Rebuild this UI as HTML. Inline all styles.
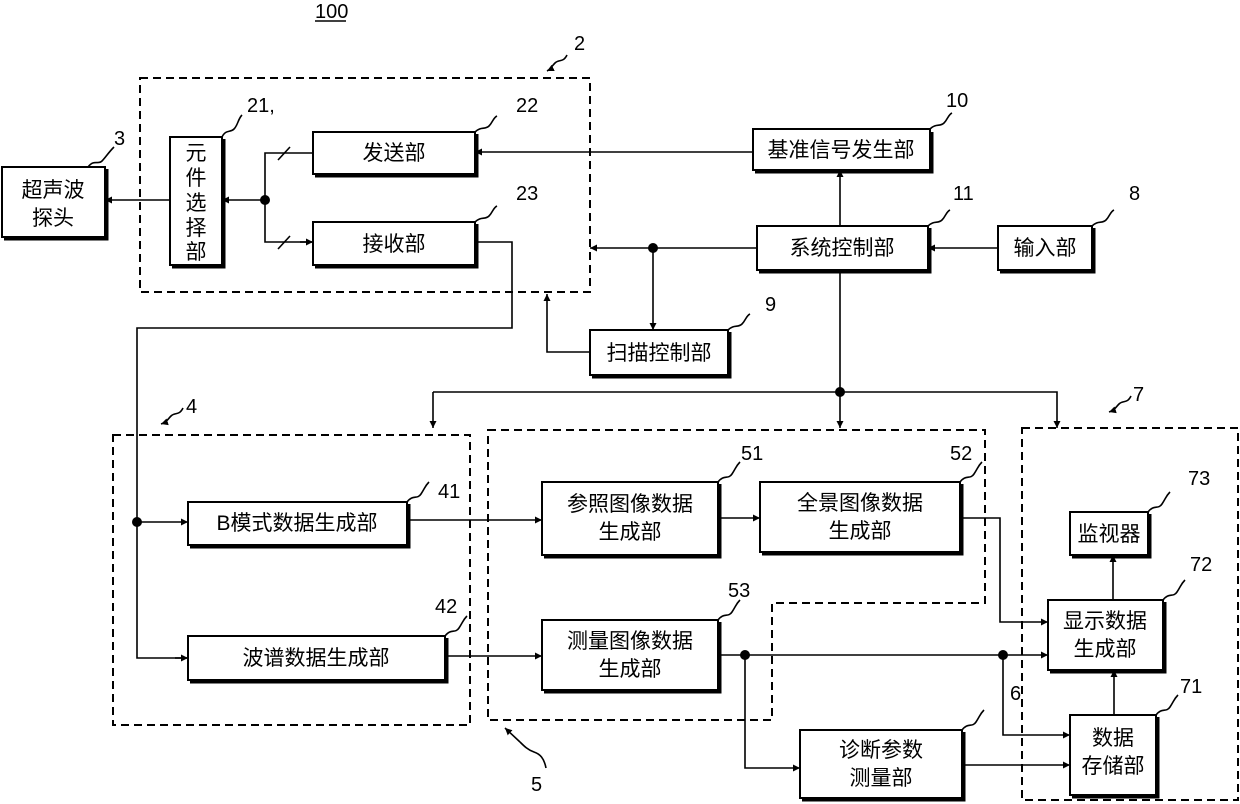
<!DOCTYPE html>
<html><head><meta charset="utf-8"><style>
body{margin:0;background:#fff}
svg{display:block}
text{font-family:"Liberation Sans","Noto Sans CJK SC",sans-serif;fill:#000}
.b{fill:#fff;stroke:#000;stroke-width:2}
.s{fill:none;stroke:#000;stroke-width:3}
.d{fill:none;stroke:#000;stroke-width:2;stroke-dasharray:8 5}
.l{fill:none;stroke:#000;stroke-width:1.6}
.t{font-size:21px;text-anchor:middle}
.n{font-size:20px}
</style></head><body>
<svg width="1240" height="804" viewBox="0 0 1240 804">
<defs><marker id="a" viewBox="0 0 10 10" refX="10" refY="5" markerWidth="7" markerHeight="7" orient="auto" markerUnits="userSpaceOnUse"><path d="M0,0L10,5L0,10z"/></marker></defs>

<text x="315" y="18" class="n">100</text><line x1="315" y1="21" x2="346" y2="21" stroke="#000" stroke-width="1.5"/>

<rect x="140" y="78" width="450" height="214" class="d"/>
<rect x="113" y="435" width="357" height="290" class="d"/>
<path d="M488,430H985V603H772V720H488Z" class="d"/>
<rect x="1022" y="428" width="216" height="372" class="d"/>

<g>
<path d="M4,239H107V169" class="s"/><rect x="2" y="167" width="103" height="70" class="b"/>
<text x="53" y="197" class="t">超声波</text><text x="53" y="225" class="t">探头</text>

<path d="M172,267H224V139" class="s"/><rect x="170" y="137" width="52" height="128" class="b"/>
<text x="196" y="160" class="t">元</text><text x="196" y="185" class="t">件</text><text x="196" y="210" class="t">选</text><text x="196" y="235" class="t">择</text><text x="196" y="259" class="t">部</text>

<path d="M315,176H477V134" class="s"/><rect x="313" y="132" width="162" height="42" class="b"/>
<text x="394" y="160" class="t">发送部</text>
<path d="M315,267H477V224" class="s"/><rect x="313" y="222" width="162" height="43" class="b"/>
<text x="394" y="251" class="t">接收部</text>

<path d="M755,172H932V132" class="s"/><rect x="753" y="129" width="177" height="41" class="b"/>
<text x="841" y="157" class="t">基准信号发生部</text>
<path d="M759,272H930V228" class="s"/><rect x="757" y="226" width="171" height="44" class="b"/>
<text x="842" y="255" class="t">系统控制部</text>
<path d="M1000,272H1094V228" class="s"/><rect x="998" y="226" width="94" height="44" class="b"/>
<text x="1045" y="255" class="t">输入部</text>
<path d="M592,377H730V332" class="s"/><rect x="590" y="330" width="138" height="45" class="b"/>
<text x="659" y="360" class="t">扫描控制部</text>

<path d="M190,547H409V504" class="s"/><rect x="188" y="502" width="219" height="43" class="b"/>
<text x="297" y="530" class="t">B模式数据生成部</text>
<path d="M190,682H447V638" class="s"/><rect x="188" y="636" width="257" height="44" class="b"/>
<text x="316" y="665" class="t">波谱数据生成部</text>

<path d="M544,557H720V484" class="s"/><rect x="542" y="482" width="176" height="73" class="b"/>
<text x="630" y="511" class="t">参照图像数据</text><text x="630" y="539" class="t">生成部</text>
<path d="M762,554H962V484" class="s"/><rect x="760" y="482" width="200" height="70" class="b"/>
<text x="860" y="510" class="t">全景图像数据</text><text x="860" y="538" class="t">生成部</text>
<path d="M544,692H720V622" class="s"/><rect x="542" y="620" width="176" height="70" class="b"/>
<text x="630" y="648" class="t">测量图像数据</text><text x="630" y="676" class="t">生成部</text>
<path d="M802,800H964V732" class="s"/><rect x="800" y="730" width="162" height="68" class="b"/>
<text x="881" y="757" class="t">诊断参数</text><text x="881" y="785" class="t">测量部</text>

<path d="M1072,557H1150V514" class="s"/><rect x="1070" y="512" width="78" height="43" class="b"/>
<text x="1109" y="541" class="t">监视器</text>
<path d="M1050,672H1165V602" class="s"/><rect x="1048" y="600" width="115" height="70" class="b"/>
<text x="1105" y="628" class="t">显示数据</text><text x="1105" y="656" class="t">生成部</text>
<path d="M1072,797H1158V717" class="s"/><rect x="1070" y="715" width="86" height="80" class="b"/>
<text x="1113" y="745" class="t">数据</text><text x="1113" y="773" class="t">存储部</text>
</g>

<g class="l">
<line x1="170" y1="200" x2="105" y2="200" marker-end="url(#a)"/>
<line x1="265" y1="200" x2="222" y2="200" marker-end="url(#a)"/>
<path d="M313,153H265V242H313" />
<line x1="300" y1="242" x2="313" y2="242" marker-end="url(#a)"/>
<line x1="753" y1="152" x2="475" y2="152" marker-end="url(#a)"/>
<path d="M477,242H512V328H137V658H188" />
<line x1="175" y1="658" x2="188" y2="658" marker-end="url(#a)"/>
<line x1="137" y1="522" x2="188" y2="522" marker-end="url(#a)"/>
<line x1="757" y1="248" x2="590" y2="248" marker-end="url(#a)"/>
<line x1="653" y1="248" x2="653" y2="330" marker-end="url(#a)"/>
<path d="M590,352H547V294" marker-end="url(#a)"/>
<line x1="840" y1="226" x2="840" y2="170" marker-end="url(#a)"/>
<line x1="998" y1="248" x2="928" y2="248" marker-end="url(#a)"/>
<line x1="840" y1="270" x2="840" y2="428" marker-end="url(#a)"/>
<path d="M433,392H1057V428" marker-end="url(#a)"/>
<line x1="433" y1="392" x2="433" y2="428" marker-end="url(#a)"/>
<line x1="407" y1="520" x2="542" y2="520" marker-end="url(#a)"/>
<line x1="718" y1="518" x2="760" y2="518" marker-end="url(#a)"/>
<path d="M960,518H1000V622H1048" marker-end="url(#a)"/>
<line x1="445" y1="656" x2="542" y2="656" marker-end="url(#a)"/>
<line x1="718" y1="655" x2="1048" y2="655" marker-end="url(#a)"/>
<path d="M745,655V768H800" marker-end="url(#a)"/>
<path d="M1003,655V735H1070" marker-end="url(#a)"/>
<line x1="962" y1="765" x2="1070" y2="765" marker-end="url(#a)"/>
<line x1="1114" y1="715" x2="1114" y2="670" marker-end="url(#a)"/>
<line x1="1113" y1="600" x2="1113" y2="555" marker-end="url(#a)"/>
<line x1="278" y1="160" x2="290" y2="147"/><line x1="278" y1="249" x2="290" y2="236"/>
</g>
<g>
<circle cx="265" cy="200" r="5"/><circle cx="653" cy="248" r="5"/><circle cx="840" cy="392" r="5"/>
<circle cx="137" cy="522" r="5"/><circle cx="745" cy="655" r="5"/><circle cx="1003" cy="655" r="5"/>
</g>

<g class="l" stroke-width="1.3">
<path d="M88,167c6,-8 10,-2 14,-6s6,-8 12,-14"/>
<path d="M222,137c4,-8 8,-4 12,-8s4,-10 8,-14"/>
<path d="M475,132c6,-6 10,-2 14,-6s4,-8 8,-10"/>
<path d="M475,222c6,-6 10,-2 14,-6s4,-8 8,-10"/>
<path d="M930,129c6,-6 10,-2 14,-6s4,-8 8,-10"/>
<path d="M928,226c6,-6 10,-2 14,-6s4,-8 8,-10"/>
<path d="M1092,226c6,-6 10,-2 14,-6s4,-8 8,-10"/>
<path d="M728,330c6,-6 10,-2 14,-6s4,-8 8,-10"/>
<path d="M407,502c6,-8 10,-2 14,-8s4,-8 8,-12"/>
<path d="M445,636c6,-8 10,-2 14,-8s4,-8 8,-12"/>
<path d="M718,482c6,-8 10,-2 14,-8s4,-8 8,-12"/>
<path d="M960,482c6,-8 10,-2 14,-8s4,-8 8,-12"/>
<path d="M718,620c6,-8 10,-2 14,-8s4,-8 8,-12"/>
<path d="M962,730c6,-8 10,-2 14,-8s4,-8 8,-12"/>
<path d="M1148,512c6,-8 10,-2 14,-8s4,-8 8,-12"/>
<path d="M1163,600c6,-8 10,-2 14,-8s4,-8 8,-12"/>
<path d="M1156,715c6,-8 10,-2 14,-8s4,-8 8,-12"/>
<path d="M567,55c-4,8 -8,4 -12,8s-4,6 -8,8" marker-end="url(#a)"/>
<path d="M183,408c-4,8 -8,4 -12,8s-4,6 -10,8" marker-end="url(#a)"/>
<path d="M1131,396c-4,8 -8,4 -12,8s-4,6 -10,8" marker-end="url(#a)"/>
<path d="M546,768c-2,-10 -6,-14 -12,-16s-10,-6 -14,-10" /><line x1="520" y1="742" x2="505" y2="728" marker-end="url(#a)"/>
</g>
<g class="n">
<text x="114" y="145">3</text><text x="247" y="112">21,</text><text x="516" y="112">22</text>
<text x="516" y="200">23</text><text x="574" y="50">2</text><text x="946" y="107">10</text>
<text x="953" y="200">11</text><text x="1129" y="200">8</text><text x="765" y="311">9</text>
<text x="186" y="413">4</text><text x="1133" y="401">7</text><text x="438" y="498">41</text>
<text x="435" y="613">42</text><text x="741" y="460">51</text>
<text x="950" y="460">52</text><text x="1188" y="485">73</text><text x="1190" y="571">72</text>
<text x="728" y="597">53</text><text x="1010" y="700">6</text><text x="1180" y="693">71</text>
<text x="531" y="791">5</text>
</g>
</svg>
</body></html>
